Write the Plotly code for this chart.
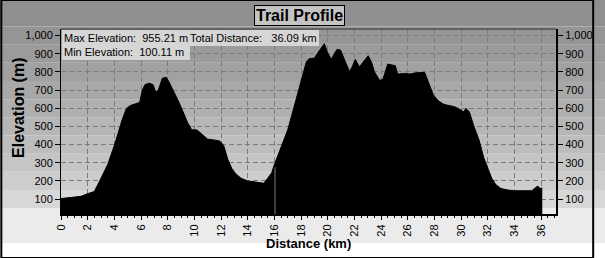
import plotly.graph_objects as go

# ---------------- data ----------------
DIST_KM = [0.0, 0.5, 1.0, 1.5, 2.0, 2.5, 2.9, 3.1, 3.5, 4.0, 4.3, 4.6, 4.9, 5.2, 5.6, 5.9,
           6.1, 6.3, 6.6, 6.9, 7.1, 7.3, 7.6, 7.9, 8.1, 8.5, 8.8, 9.1, 9.5, 9.8, 10.2,
           10.6, 11.0, 11.5, 11.9, 12.2, 12.5, 12.8, 13.1, 13.5, 14.0, 14.5, 15.0, 15.2,
           15.5, 15.8, 16.0, 16.3, 16.7, 17.0, 17.3, 17.7, 18.0, 18.4, 18.6, 19.0, 19.4,
           19.75, 20.0, 20.27, 20.5, 20.7, 20.96, 21.3, 21.64, 21.85, 22.06, 22.38, 22.7,
           23.04, 23.3, 23.5, 23.9, 24.14, 24.5, 24.82, 25.07, 25.24, 25.85, 26.2, 26.58,
           27.27, 27.56, 27.93, 28.3, 28.66, 28.91, 29.52, 30.0, 30.2, 30.37, 30.62, 30.98,
           31.35, 31.72, 32.0, 32.3, 32.6, 33.0, 33.5, 34.0, 35.3, 35.5, 35.75, 35.9, 36.09]
ELEV_M = [103, 106, 108, 115, 130, 142, 200, 232, 290, 395, 470, 540, 598, 615, 625, 632,
          700, 730, 738, 730, 690, 700, 765, 770, 745, 690, 640, 590, 520, 482, 480,
          455, 430, 425, 420, 395, 320, 270, 240, 215, 200, 195, 192, 187,
          215, 245, 290, 350, 425, 480, 560, 670, 760, 856, 872, 876, 920,
          955, 905, 869, 900, 924, 920, 860, 801, 830, 869, 828, 860,
          889, 850, 801, 753, 760, 843, 836, 834, 788, 791, 788, 795,
          797, 746, 672, 641, 623, 618, 608, 590, 580, 599, 580, 498,
          425, 324, 270, 215, 180, 158, 150, 146, 146, 159, 172, 160, 160]

X_TICKS = list(range(0, 37, 2))
Y_TICKS = [100, 200, 300, 400, 500, 600, 700, 800, 900, 1000]
Y_TICK_TEXT = ["100", "200", "300", "400", "500", "600", "700", "800", "900", "1,000"]
MARKER_KM = 16.05
MARKER_TOP_M = 275

TITLE = "Trail Profile"
INFO_LEFT = "Max Elevation:\u00a0 955.21 m<br>Min Elevation:\u00a0 100.11 m"
INFO_RIGHT = "Total Distance:\u00a0\u00a0 36.09 km"

# ---------------- layout constants ----------------
W, H = 605, 258
ML, MR, MT, MB = 61, 38, 29, 44
PW, PH = W - ML - MR, H - MT - MB
Y_RANGE = [18, 1036]
X_RANGE = [0, 37.12]
FONT = "Liberation Sans, Arial, sans-serif"


def py(v):
    return (v - Y_RANGE[0]) / (Y_RANGE[1] - Y_RANGE[0])


def ppx(px):
    return (px - ML) / PW


def ppy(px):
    return (H - MB - px) / PH


band_colors = {1000: "#959595", 900: "#9b9b9b", 800: "#a1a1a1", 700: "#a8a8a8",
               600: "#afafaf", 500: "#b6b6b6", 400: "#bdbdbd", 300: "#c5c5c5",
               200: "#cdcdcd", 100: "#d7d7d7"}

shapes = []
# title area (above the 1000 band)
shapes.append(dict(type="rect", xref="paper", yref="paper", x0=-0.3, x1=1.3,
                   y0=py(1050), y1=1.5, fillcolor="#8f8f8f", line_width=0, layer="below"))
for v in Y_TICKS:
    shapes.append(dict(type="rect", xref="paper", yref="paper", x0=-0.3, x1=1.3,
                       y0=py(v - 50), y1=py(v + 50), fillcolor=band_colors[v],
                       line_width=0, layer="below"))
shapes.append(dict(type="rect", xref="paper", yref="paper", x0=-0.3, x1=1.3,
                   y0=ppy(243), y1=py(50), fillcolor="#ebebeb", line_width=0, layer="below"))
# top border line
shapes.append(dict(type="line", xref="paper", yref="paper", x0=0, x1=1, y0=1, y1=1,
                   line=dict(color="#303030", width=1)))
# waypoint marker line
shapes.append(dict(type="line", xref="x", yref="y", x0=MARKER_KM, x1=MARKER_KM,
                   y0=Y_RANGE[0], y1=MARKER_TOP_M, line=dict(color="#7a7a7a", width=1),
                   layer="above"))
# outer border
shapes.append(dict(type="rect", xref="paper", yref="paper", x0=ppx(0), x1=ppx(W),
                   y0=ppy(H), y1=ppy(0), line=dict(color="black", width=2),
                   fillcolor="rgba(0,0,0,0)"))

fig = go.Figure()
fig.add_trace(go.Scatter(x=DIST_KM, y=ELEV_M, mode="lines", fill="tozeroy",
                         fillcolor="black", line=dict(color="black", width=1),
                         hoverinfo="skip", showlegend=False))
fig.add_trace(go.Scatter(x=DIST_KM, y=ELEV_M, mode="lines", yaxis="y2",
                         line=dict(color="rgba(0,0,0,0)", width=0),
                         hoverinfo="skip", showlegend=False))

grid = dict(gridcolor="#7c7c7c", griddash="5px,3px", gridwidth=1)

fig.update_layout(
    width=W, height=H, autosize=False,
    margin=dict(l=ML, r=MR, t=MT, b=MB, pad=0),
    paper_bgcolor="white", plot_bgcolor="rgba(0,0,0,0)",
    font=dict(family=FONT, size=11, color="black"),
    shapes=shapes,
    xaxis=dict(range=X_RANGE, tickvals=X_TICKS, ticktext=[str(t) for t in X_TICKS],
               tickangle=-90, ticks="outside", ticklen=4, tickcolor="black",
               showline=True, linecolor="black", linewidth=2, zeroline=False,
               tickfont=dict(size=11), showgrid=True,
               minor=dict(dtick=0.5, tick0=0, ticks="outside", ticklen=2,
                          tickcolor="black", showgrid=False),
               **grid),
    yaxis=dict(range=Y_RANGE, tickvals=Y_TICKS, ticktext=Y_TICK_TEXT,
               ticks="outside", ticklen=5, tickcolor="black",
               showline=True, linecolor="black", linewidth=1, zeroline=False,
               tickfont=dict(size=11), showgrid=True, **grid),
    yaxis2=dict(range=Y_RANGE, tickvals=Y_TICKS, ticktext=Y_TICK_TEXT,
                overlaying="y", side="right", ticks="outside", ticklen=5,
                tickcolor="black", showline=True, linecolor="black", linewidth=2,
                zeroline=False, showgrid=False, tickfont=dict(size=11)),
    annotations=[
        dict(text=TITLE, xref="paper", yref="paper", x=ppx(305), y=ppy(15),
             xanchor="center", yanchor="middle", showarrow=False,
             font=dict(family=FONT, size=16, color="black", weight="bold"),
             bgcolor="#c4c4c4", bordercolor="black", borderwidth=1, borderpad=1),
        dict(text=INFO_LEFT, xref="paper", yref="paper", x=ppx(62), y=ppy(30),
             xanchor="left", yanchor="top", align="left", showarrow=False,
             font=dict(family=FONT, size=11, color="black"),
             bgcolor="#d6d6d6", borderpad=2, borderwidth=0),
        dict(text=INFO_RIGHT, xref="paper", yref="paper", x=ppx(191), y=ppy(30),
             xanchor="left", yanchor="top", align="left", showarrow=False,
             font=dict(family=FONT, size=11, color="black"),
             bgcolor="#d6d6d6", borderpad=2, borderwidth=0),
        dict(text="Elevation (m)", xref="paper", yref="paper", x=ppx(17), y=ppy(108),
             xanchor="center", yanchor="middle", textangle=-90, showarrow=False,
             font=dict(family=FONT, size=16, color="black", weight="bold")),
        dict(text="Distance (km)", xref="paper", yref="paper", x=ppx(314), y=ppy(243),
             xanchor="center", yanchor="middle", showarrow=False,
             font=dict(family=FONT, size=13, color="black", weight="bold")),
    ],
)

fig.write_html("out.html")
